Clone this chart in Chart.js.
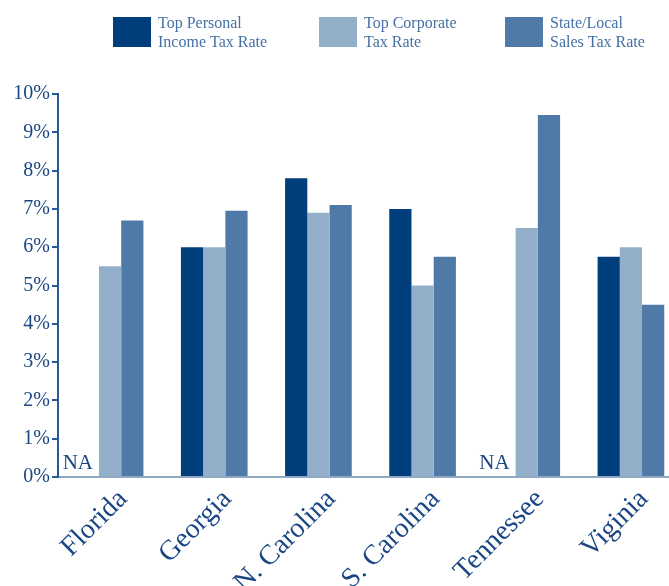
<!DOCTYPE html>
<html>
<head>
<meta charset="utf-8">
<script src="https://cdn.jsdelivr.net/npm/chart.js@4"></script>
<style>
html,body{margin:0;padding:0;background:#fff;overflow:hidden;}
#wrap{width:690px;height:586px;}
</style>
</head>
<body>
<div id="wrap"><canvas id="c" width="690" height="586"></canvas></div>
<script>
const categories = ['Florida', 'Georgia', 'N. Carolina', 'S. Carolina', 'Tennessee', 'Viginia'];
const personalIncome = [null, 6.0, 7.8, 7.0, null, 5.75];
const corporate = [5.5, 6.0, 6.9, 5.0, 6.5, 6.0];
const salesTax = [6.7, 6.95, 7.1, 5.75, 9.45, 4.5];
const seriesNames = [['Top Personal', 'Income Tax Rate'], ['Top Corporate', 'Tax Rate'], ['State/Local', 'Sales Tax Rate']];
const yTicks = [0,1,2,3,4,5,6,7,8,9,10];
const naLabel = 'NA';

const colors = ['#013e7c', '#94afca', '#4f7aa7'];
const serif = '"Liberation Serif", "DejaVu Serif", serif';

const legendPlugin = {
  id: 'customLegend',
  afterDraw(chart) {
    const ctx = chart.ctx;
    const pos = [113, 319, 505];
    ctx.save();
    chart.data.datasets.forEach((ds, i) => {
      ctx.fillStyle = ds.backgroundColor;
      ctx.fillRect(pos[i], 17, 38, 30);
      ctx.fillStyle = '#4571a6';
      ctx.font = '16px ' + serif;
      ctx.textAlign = 'left';
      ctx.textBaseline = 'alphabetic';
      const lines = seriesNames[i];
      ctx.fillText(lines[0], pos[i] + 45, 28);
      ctx.fillText(lines[1], pos[i] + 45, 47);
    });
    ctx.restore();
  }
};

const naPlugin = {
  id: 'naLabels',
  afterDatasetsDraw(chart) {
    const ctx = chart.ctx;
    const m1 = chart.getDatasetMeta(1);
    const yBase = chart.scales.y.getPixelForValue(0);
    ctx.save();
    ctx.fillStyle = '#1a4784';
    ctx.font = '21px ' + serif;
    ctx.textAlign = 'center';
    ctx.textBaseline = 'alphabetic';
    personalIncome.forEach((v, i) => {
      if (v === null) {
        const el = m1.data[i];
        const x = el.x - el.width - 10;
        ctx.fillText(naLabel, x, yBase - 8);
      }
    });
    ctx.restore();
  }
};

new Chart(document.getElementById('c'), {
  type: 'bar',
  data: {
    labels: categories,
    datasets: [
      { label: seriesNames[0].join(' '), data: personalIncome, backgroundColor: colors[0] },
      { label: seriesNames[1].join(' '), data: corporate, backgroundColor: colors[1] },
      { label: seriesNames[2].join(' '), data: salesTax, backgroundColor: colors[2] }
    ]
  },
  options: {
    responsive: false,
    animation: false,
    devicePixelRatio: 1,
    layout: { padding: { top: 94, right: 7, left: 0, bottom: 0 } },
    categoryPercentage: 0.64,
    barPercentage: 1.0,
    plugins: { legend: { display: false }, tooltip: { enabled: false } },
    scales: {
      x: {
        grid: { display: false, drawTicks: false },
        border: { display: true, color: '#8ea8c6', width: 2 },
        ticks: {
          color: '#1a4784',
          font: { family: serif, size: 28 },
          minRotation: 45,
          maxRotation: 45,
          padding: 6,
          labelOffset: 13,
          autoSkip: false
        },
        afterFit(scale) { scale.height = 109; }
      },
      y: {
        min: 0,
        max: 10,
        afterBuildTicks(scale) { scale.ticks = yTicks.map(v => ({ value: v })); },
        grid: { drawOnChartArea: false, drawTicks: true, tickLength: 6, color: '#2a5a93', lineWidth: 2 },
        border: { display: true, color: '#2a5a93', width: 2 },
        ticks: {
          color: '#1a4784',
          font: { family: serif, size: 20 },
          padding: 2,
          callback: v => v + '%'
        },
        afterFit(scale) { scale.width = 58; }
      }
    }
  },
  plugins: [legendPlugin, naPlugin]
});
</script>
</body>
</html>
